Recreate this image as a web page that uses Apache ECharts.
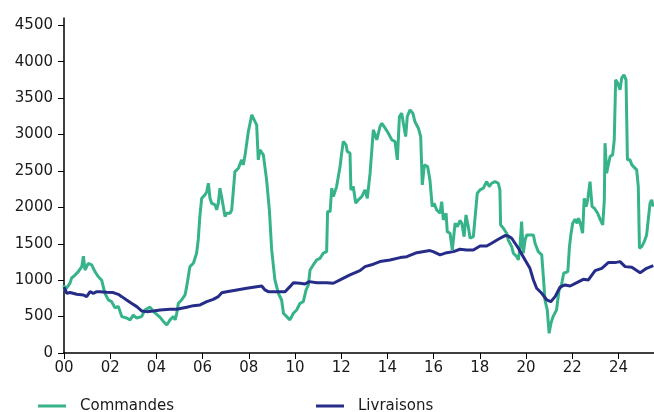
<!DOCTYPE html>
<html>
<head>
<meta charset="utf-8">
<script src="https://cdn.jsdelivr.net/npm/echarts@6/dist/echarts.min.js"></script>
<style>
  body { margin: 0; background: #fff; }
  #chart { width: 654px; height: 412px; }
</style>
</head>
<body>
<div id="chart"></div>
<script>
// years since 2000 (decimal) and values
const cmdT = [0, 0.04, 0.26, 0.33, 0.48, 0.62, 0.77, 0.84, 0.91, 1.05, 1.2, 1.34, 1.48, 1.63, 1.77, 1.92, 2.06, 2.21, 2.35, 2.5, 2.71, 2.86, 3.0, 3.15, 3.36, 3.5, 3.72, 3.94,
  4.16, 4.31, 4.45, 4.59, 4.73, 4.81, 4.88, 4.95, 5.09, 5.24, 5.31, 5.38, 5.45, 5.6, 5.74, 5.81, 5.88, 5.96, 6.1, 6.18, 6.25, 6.32, 6.39, 6.54, 6.61, 6.68, 6.75, 6.82, 6.97,
  7.04, 7.19, 7.26, 7.4, 7.55, 7.69, 7.76, 7.84, 7.98, 8.13, 8.2, 8.27, 8.34, 8.41, 8.48, 8.63, 8.77, 8.89, 8.99, 9.13, 9.28, 9.42, 9.5, 9.64, 9.78, 9.93,
  10.07, 10.22, 10.36, 10.48, 10.58, 10.65, 10.79, 10.94, 11.08, 11.22, 11.37, 11.41, 11.52, 11.59, 11.66, 11.8, 11.95, 12.02, 12.09, 12.21, 12.26, 12.38, 12.42, 12.52,
  12.63, 12.74, 12.89, 13.03, 13.13, 13.25, 13.39, 13.54, 13.68, 13.76, 13.9, 14.04, 14.19, 14.33, 14.43, 14.52, 14.62, 14.69, 14.79, 14.86, 14.98, 15.1, 15.19, 15.34,
  15.44, 15.51, 15.6, 15.74, 15.84, 15.94, 16.02, 16.13, 16.28, 16.35, 16.42, 16.54, 16.59, 16.71, 16.81, 16.93, 17.03, 17.14, 17.22, 17.32, 17.4, 17.5, 17.58, 17.72,
  17.79, 17.89, 18.01, 18.15, 18.3, 18.41, 18.51, 18.66, 18.8, 18.87, 18.9, 19.02, 19.16, 19.23, 19.38, 19.45, 19.52, 19.6, 19.67, 19.74, 19.81, 19.88, 19.96, 20.03,
  20.17, 20.32, 20.39, 20.53, 20.68, 20.75, 20.82, 20.92, 21.0, 21.08, 21.17, 21.32, 21.43, 21.52, 21.63, 21.81, 21.88, 21.95, 22.02, 22.12, 22.21, 22.27, 22.35, 22.45,
  22.52, 22.6, 22.67, 22.77, 22.86, 22.96, 23.1, 23.22, 23.32, 23.39, 23.42, 23.49, 23.56, 23.64, 23.75, 23.82, 23.88, 23.97, 24.07, 24.14, 24.24, 24.33, 24.39, 24.5,
  24.58, 24.65, 24.79, 24.86, 24.91, 25.01, 25.12, 25.22, 25.3, 25.37, 25.44, 25.51]
const cmdV = [930, 860, 960, 1030, 1070, 1117, 1185, 1330, 1140, 1230, 1210, 1117, 1050, 1000, 820, 730, 705, 620, 640, 500, 480, 455, 520, 480, 500, 590, 630, 550,
  490, 430, 385, 455, 500, 455, 545, 683, 728, 797, 911, 1048, 1186, 1232, 1370, 1552, 1873, 2125, 2171, 2216, 2331, 2125, 2057, 2034, 1965, 2057, 2263, 2148, 1873,
  1919, 1919, 1965, 2491, 2537, 2652, 2583, 2721, 3041, 3270, 3247, 3178, 3133, 2652, 2789, 2721, 2377, 1965, 1415, 1003, 820, 728, 545, 500, 455, 545,
  590, 683, 705, 866, 934, 1140, 1209, 1278, 1300, 1370, 1392, 1942, 1942, 2263, 2148, 2285, 2560, 2744, 2904, 2858, 2766, 2744, 2240, 2285,
  2057, 2102, 2148, 2240, 2125, 2469, 3064, 2927, 3110, 3155, 3087, 3018, 2927, 2904, 2652, 3247, 3293, 3155, 2972, 3247, 3339, 3293, 3178, 3087,
  2972, 2308, 2583, 2560, 2377, 2010, 2057, 1965, 1919, 2079, 1827, 1919, 1667, 1644, 1415, 1782, 1735, 1820, 1782, 1598, 1896, 1735, 1576, 1598,
  1576, 2194, 2240, 2263, 2354, 2285, 2331, 2354, 2331, 2240, 1759, 1713, 1644, 1552, 1461, 1370, 1347, 1323, 1278, 1461, 1804, 1370, 1552, 1621,
  1621, 1621, 1507, 1392, 1347, 1048, 728, 590, 270, 408, 500, 590, 866, 911, 1095, 1117, 1461, 1644, 1782, 1837, 1782, 1850, 1782, 1644,
  2125, 2010, 2102, 2354, 2010, 1988, 1919, 1827, 1759, 2102, 2881, 2469, 2583, 2697, 2721, 2927, 3751, 3705, 3613, 3774, 3820, 3751, 2652, 2652,
  2583, 2606, 2514, 2285, 1438, 1461, 1530, 1621, 1598, 2057, 2102, 2010]

const livT = [0, 0.12, 0.26, 0.55, 0.84, 0.98, 1.13, 1.27, 1.42, 1.56, 1.85, 2.13, 2.35, 2.5, 2.71, 2.92, 3.15, 3.36, 3.58, 3.87, 4.16, 4.59, 4.88, 5.31, 5.6, 5.89,
  6.18, 6.46, 6.68, 6.83, 7.04, 7.48, 7.91, 8.34, 8.56, 8.7, 8.84, 9.2, 9.57, 9.78, 9.93, 10.22, 10.43, 10.62, 10.94, 11.37, 11.66, 11.95, 12.38, 12.81, 13.03,
  13.39, 13.68, 14.11, 14.55, 14.84, 15.27, 15.84, 15.98, 16.28, 16.57, 16.86, 17.14, 17.43, 17.72, 18.01, 18.3, 18.51, 18.8, 19.09, 19.23, 19.38, 19.67, 19.96,
  20.17, 20.32, 20.46, 20.68, 20.9, 21.07, 21.26, 21.47, 21.69, 21.91, 22.2, 22.48, 22.7, 22.99, 23.28, 23.56, 23.85, 24.07, 24.29, 24.58, 24.94, 25.22, 25.51]
const livV = [903, 820, 830, 806, 797, 774, 842, 820, 842, 842, 834, 830, 806, 774, 728, 683, 637, 577, 568, 577, 590, 600, 600, 628, 650, 660,
  705, 737, 774, 828, 842, 866, 889, 911, 920, 866, 842, 842, 842, 911, 966, 958, 948, 980, 966, 966, 958, 1003, 1072, 1131, 1186,
  1219, 1255, 1278, 1310, 1323, 1378, 1406, 1392, 1347, 1378, 1392, 1425, 1415, 1415, 1470, 1470, 1507, 1562, 1612, 1607, 1576, 1438, 1278,
  1163, 1003, 889, 820, 728, 705, 774, 903, 934, 920, 966, 1012, 1003, 1131, 1163, 1241, 1241, 1255, 1186, 1177, 1103, 1163, 1200]

const seriesNames = ['Commandes', 'Livraisons']
const xTicks = [0, 2, 4, 6, 8, 10, 12, 14, 16, 18, 20, 22, 24]
const yTicks = [0, 500, 1000, 1500, 2000, 2500, 3000, 3500, 4000, 4500]
const colors = ['#36b38b', '#262d88']

const pair = (t, v) => t.map((x, i) => [x, v[i]])

const chart = echarts.init(document.getElementById('chart'))
const font = 'DejaVu Sans'
const textColor = '#1a1a1a'

const legendBase = {
  top: 393,
  icon: 'rect',
  itemWidth: 28,
  itemHeight: 3,
  selectedMode: false,
  textStyle: { fontFamily: font, fontSize: 15, color: textColor, padding: [0, 0, 0, 9], lineHeight: 16 }
}

chart.setOption({
  animation: false,
  grid: { left: 64, right: 0, top: 18, bottom: 59 },
  legend: [
    Object.assign({ left: 33, data: [seriesNames[0]] }, legendBase),
    Object.assign({ left: 311, data: [seriesNames[1]] }, legendBase)
  ],
  xAxis: {
    type: 'value',
    min: 0,
    max: 25.54,
    splitLine: { show: false },
    axisLine: { lineStyle: { color: '#000', width: 1.5 } },
    axisTick: { length: 6, customValues: xTicks, lineStyle: { color: '#000' } },
    axisLabel: {
      margin: 8,
      customValues: xTicks,
      fontFamily: font,
      fontSize: 15,
      color: textColor,
      formatter: (v) => String(v).padStart(2, '0')
    }
  },
  yAxis: {
    type: 'value',
    min: 0,
    max: 4600,
    splitLine: { show: false },
    axisLine: { show: true, lineStyle: { color: '#000', width: 1.5 } },
    axisTick: { show: true, length: 6, customValues: yTicks, lineStyle: { color: '#000' } },
    axisLabel: {
      margin: 11,
      customValues: yTicks,
      fontFamily: font,
      fontSize: 15,
      color: textColor,
      formatter: (v) => String(v)
    }
  },
  series: [
    {
      name: seriesNames[0],
      type: 'line',
      data: pair(cmdT, cmdV),
      showSymbol: false,
      color: colors[0],
      lineStyle: { width: 3, color: colors[0] }
    },
    {
      name: seriesNames[1],
      type: 'line',
      data: pair(livT, livV),
      showSymbol: false,
      color: colors[1],
      lineStyle: { width: 3, color: colors[1] }
    }
  ]
})
</script>
</body>
</html>
